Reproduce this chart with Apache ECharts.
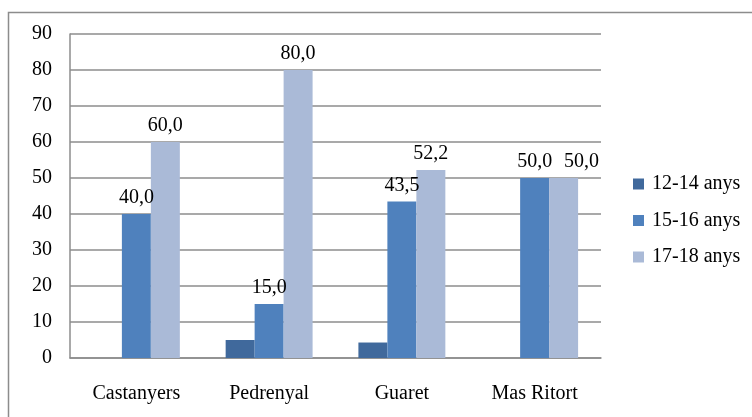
<!DOCTYPE html>
<html>
<head>
<meta charset="utf-8">
<script src="https://cdn.jsdelivr.net/npm/echarts@6/dist/echarts.min.js"></script>
<style>
  html, body { margin: 0; padding: 0; background: #ffffff; }
  #chart { width: 752px; height: 417px; }
</style>
</head>
<body>
<div id="chart"></div>
<script>
// Percentatge per grup d'edat a cada zona
const categories = ['Castanyers', 'Pedrenyal', 'Guaret', 'Mas Ritort'];
const seriesNames = ['12-14 anys', '15-16 anys', '17-18 anys'];
const values1214 = [null, 5.0, 4.3, null];
const values1516 = [40.0, 15.0, 43.5, 50.0];
const values1718 = [60.0, 80.0, 52.2, 50.0];
const yTicks = [0, 10, 20, 30, 40, 50, 60, 70, 80, 90];

const colors = ['#40699C', '#4F81BD', '#AABAD7'];
const serif = '"Liberation Serif", "DejaVu Serif", serif';
const fontSize = 20;

const labelCfg = {
  show: true,
  position: 'top',
  distance: 6,
  color: '#000000',
  fontFamily: serif,
  fontSize: fontSize,
  formatter: p => p.value == null ? '' : Number(p.value).toFixed(1).replace('.', ',')
};

// the last label of the oldest group is nudged right so it does not collide with its neighbour
const data1718 = values1718.map((v, i) =>
  i === values1718.length - 1 ? { value: v, label: { offset: [18, 0] } } : v);

const chart = echarts.init(document.getElementById('chart'), null, { renderer: 'canvas' });

chart.setOption({
  animation: false,
  backgroundColor: '#ffffff',
  graphic: [{
    type: 'rect',
    shape: { x: 8.5, y: 12.5, width: 780, height: 440 },
    style: { fill: 'none', stroke: '#8C8C8C', lineWidth: 1.5 },
    silent: true,
    z: -1
  }],
  grid: { left: 70, top: 34, width: 531, height: 324, containLabel: false },
  legend: {
    orient: 'vertical',
    left: 633,
    top: 174,
    padding: 0,
    itemWidth: 11,
    itemHeight: 11,
    itemGap: 16.5,
    icon: 'rect',
    data: seriesNames,
    textStyle: { fontFamily: serif, fontSize: fontSize, color: '#000000', padding: [0, 0, 0, 3] }
  },
  xAxis: {
    type: 'category',
    data: categories,
    axisLine: { show: true, lineStyle: { color: '#8C8C8C', width: 1.5 } },
    axisTick: { show: false },
    axisLabel: { margin: 26, fontFamily: serif, fontSize: fontSize, color: '#000000' }
  },
  yAxis: {
    type: 'value',
    min: yTicks[0],
    max: yTicks[yTicks.length - 1],
    interval: 10,
    axisLine: { show: true, lineStyle: { color: '#8C8C8C', width: 1.5 } },
    axisTick: { show: false },
    axisLabel: { margin: 18, fontFamily: serif, fontSize: fontSize, color: '#000000' },
    splitLine: { show: true, lineStyle: { color: '#8C8C8C', width: 1.5 } }
  },
  series: [
    {
      name: seriesNames[0], type: 'bar', data: values1214,
      itemStyle: { color: colors[0] },
      barGap: '0%', barCategoryGap: '34.5%'
    },
    {
      name: seriesNames[1], type: 'bar', data: values1516,
      itemStyle: { color: colors[1] },
      label: labelCfg,
      barGap: '0%', barCategoryGap: '34.5%'
    },
    {
      name: seriesNames[2], type: 'bar', data: data1718,
      itemStyle: { color: colors[2] },
      label: labelCfg,
      barGap: '0%', barCategoryGap: '34.5%'
    }
  ]
});
</script>
</body>
</html>
